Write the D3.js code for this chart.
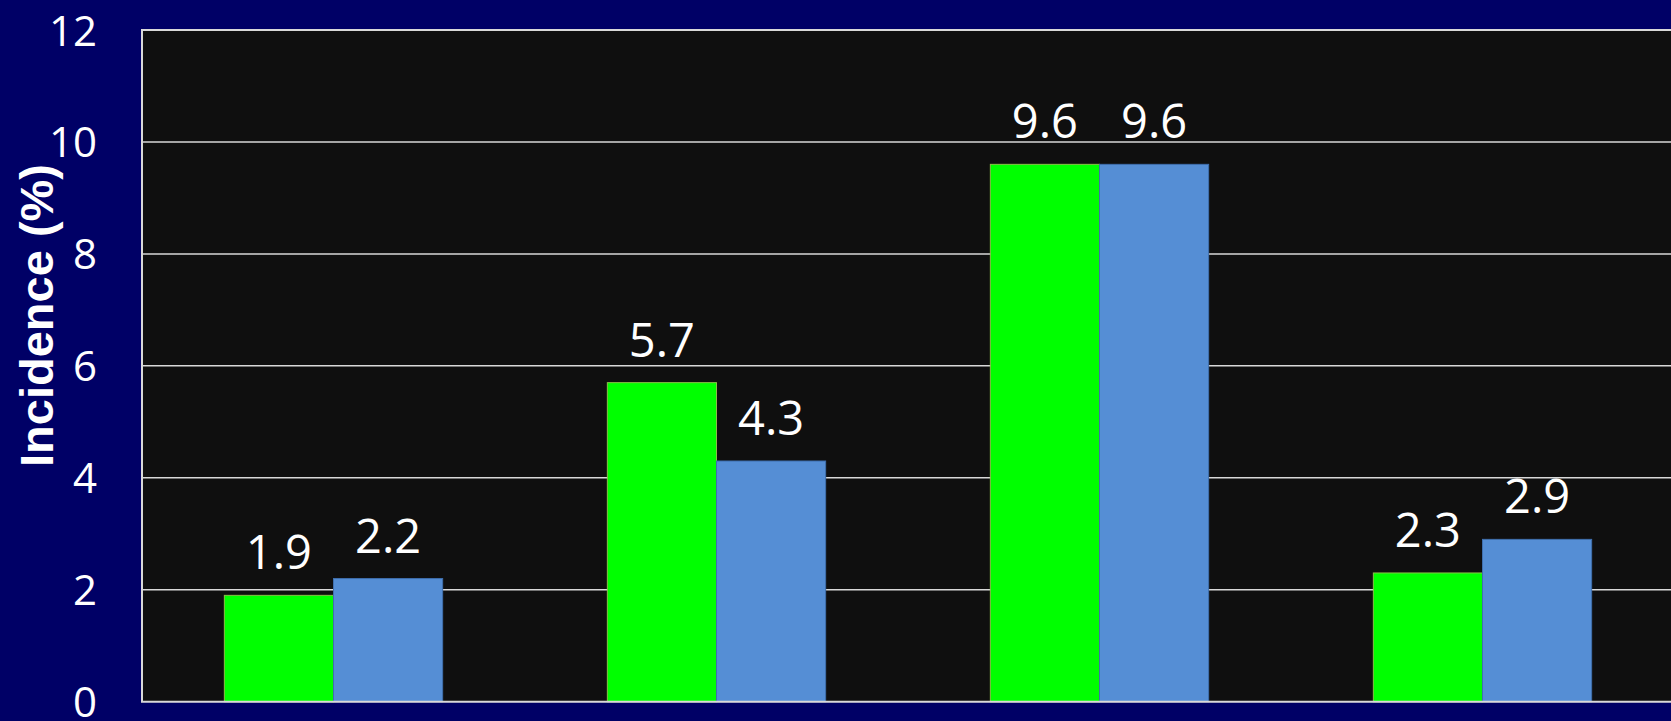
<!DOCTYPE html>
<html>
<head>
<meta charset="utf-8">
<script src="https://cdn.jsdelivr.net/npm/d3@7"></script>
<style>
  html, body { margin: 0; padding: 0; background: #000066; overflow: hidden; }
  svg { display: block; }
</style>
</head>
<body>
<svg id="chart" width="1671" height="721"></svg>
<script>
// ---- data ----
const categories = ["Group 1", "Group 2", "Group 3", "Group 4"];
const seriesNames = ["Series A", "Series B"];
const seriesA = [1.9, 5.7, 9.6, 2.3];
const seriesB = [2.2, 4.3, 9.6, 2.9];
const yTicks = [0, 2, 4, 6, 8, 10, 12];
const yTitle = "Incidence (%)";

// ---- layout ----
const W = 1671, H = 721;
const plot = { left: 142, top: 30, right: 1674, bottom: 701.7 };
const colors = { fill: ["#00ff00", "#558ed5"], stroke: ["#8cbf4a", "#3f6fae"] };

const svg = d3.select("#chart");
svg.append("rect").attr("width", W).attr("height", H).attr("fill", "#000066");

const x0 = d3.scaleBand().domain(categories)
  .range([plot.left, plot.right]).paddingInner(0.43).paddingOuter(0.215);
const x1 = d3.scaleBand().domain(seriesNames).range([0, x0.bandwidth()]).padding(0);
const y = d3.scaleLinear().domain([0, 12]).range([plot.bottom, plot.top]);

// plot background
svg.append("rect")
  .attr("x", plot.left).attr("y", plot.top)
  .attr("width", plot.right - plot.left).attr("height", plot.bottom - plot.top)
  .attr("fill", "#0f0f0f");

// gridlines
svg.append("g").selectAll("line").data(yTicks.filter(d => d > 0 && d < 12)).join("line")
  .attr("x1", plot.left).attr("x2", plot.right)
  .attr("y1", d => y(d)).attr("y2", d => y(d))
  .attr("stroke", "#d9d9d9").attr("stroke-width", 1.5);

// bars
const rows = categories.map((c, i) => ({ cat: c, vals: [seriesA[i], seriesB[i]] }));
const groups = svg.append("g").selectAll("g").data(rows).join("g")
  .attr("transform", d => `translate(${x0(d.cat)},0)`);

groups.selectAll("rect").data(d => d.vals.map((v, j) => ({ v, s: seriesNames[j], j }))).join("rect")
  .attr("x", d => x1(d.s)).attr("width", x1.bandwidth())
  .attr("y", d => y(d.v)).attr("height", d => y(0) - y(d.v))
  .attr("fill", d => colors.fill[d.j])
  .attr("stroke", d => colors.stroke[d.j]).attr("stroke-width", 1);

groups.selectAll("text").data(d => d.vals.map((v, j) => ({ v, s: seriesNames[j], j }))).join("text")
  .attr("x", d => x1(d.s) + x1.bandwidth() / 2)
  .attr("y", d => y(d.v) - 26)
  .attr("text-anchor", "middle")
  .attr("fill", "#ffffff")
  .attr("font-family", "'Open Sans', 'Noto Sans', sans-serif")
  .attr("font-size", 47)
  .text(d => d3.format(".1f")(d.v));

// plot border (left, top, bottom)
svg.append("path")
  .attr("d", `M${plot.right},${plot.top}H${plot.left}V${plot.bottom}H${plot.right}`)
  .attr("fill", "none").attr("stroke", "#d9d9d9").attr("stroke-width", 2);

// y-axis tick labels
const yAxis = d3.axisLeft(y).tickValues(yTicks).tickSize(0).tickPadding(0);
const ya = svg.append("g").attr("transform", "translate(97,0)").call(yAxis);
ya.select(".domain").remove();
ya.selectAll("text")
  .attr("fill", "#ffffff")
  .attr("font-family", "'Open Sans', 'Noto Sans', sans-serif")
  .attr("font-size", 42)
  .attr("x", 0)
  .attr("dy", "0.357em");

// y title
svg.append("text")
  .attr("transform", "translate(53,315.5) rotate(-90)")
  .attr("text-anchor", "middle")
  .attr("fill", "#ffffff")
  .attr("font-family", "'Liberation Sans', Arial, sans-serif")
  .attr("font-weight", "bold")
  .attr("font-size", 47)
  .text(yTitle);
</script>
</body>
</html>
